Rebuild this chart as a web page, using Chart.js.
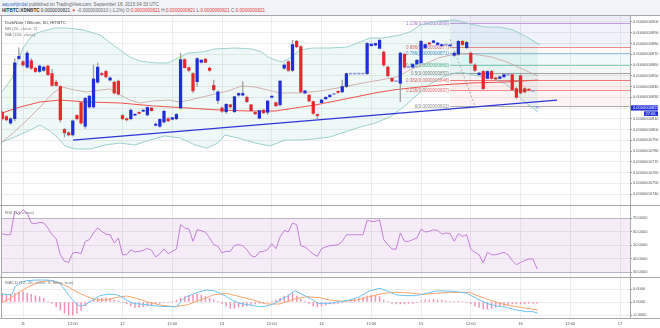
<!DOCTYPE html>
<html lang="en">
<head>
<meta charset="utf-8">
<title>DarkNote / Bitcoin, 60, HITBTC</title>
<script src="https://cdn.jsdelivr.net/npm/chart.js@4.4.1/dist/chart.umd.min.js"></script>
<style>
  html, body { margin: 0; padding: 0; }
  body { position: relative; width: 660px; height: 328px; overflow: hidden; background: #f0f3f7;
         font-family: "Liberation Sans", Arial, sans-serif; }
  #panel { position: absolute; left: 0; top: 15px; width: 660px; height: 313px; background: #fff; }
  canvas { position: absolute; left: 0; }
  .hdr { position: absolute; left: 2px; font-size: 4.6px; line-height: 5px; white-space: nowrap; color: #666; }
  .hdr .user { color: #3a6fc4; }
  .hdr b { color: #333; }
  .hdr .dn { color: #e53935; }
  .legend { position: absolute; left: 5px; font-size: 4.4px; line-height: 5px; white-space: nowrap; color: #777; }
  .legend.title { color: #444; }
</style>
</head>
<body>
<div class="hdr" style="top:1.5px"><span class="user">aayushjindal</span> published on TradingView.com, September 18, 2015 04:33 UTC</div>
<div class="hdr" style="top:7.5px"><b>HITBTC:XDNBTC</b> <span style="color:#333">0.0000000821</span> <span class="dn">▼</span> -0.0000000010 (-1.2%) O:<span class="dn">0.0000000821</span> H:<span class="dn">0.0000000821</span> L:<span class="dn">0.0000000821</span> C:<span class="dn">0.0000000821</span></div>
<div id="panel"></div>
<canvas id="priceChart" width="660" height="190" style="top:15px"></canvas>
<canvas id="rsiChart" width="660" height="72" style="top:205px"></canvas>
<canvas id="macdChart" width="660" height="51" style="top:277px"></canvas>
<div class="legend title" style="top:19.5px">DarkNote / Bitcoin, 60, HITBTC</div>
<div class="legend" style="top:25.8px">BB (20, close, 2)</div>
<div class="legend" style="top:31.8px">MA (100, close)</div>
<div class="legend" style="top:209.5px">RSI (14, close)</div>
<div class="legend" style="top:279.5px">MACD (12, 26, close, 9, false, true)</div>
<script>
// prices and MACD values are kept in units of 1e-10 BTC
const PRICE_UNIT = 1e-10;

// hourly bars, hour 0 = Sep 11 00:00 UTC
const firstHour = -5;
const opens = [816, 812, 806, 810, 866, 863, 858, 864, 857, 854, 855, 859, 852, 844, 840, 800, 797, 795, 813, 825,
  803, 821, 821, 844, 852, 854, 846, 844, 845, 813, 810, 810, 813.5, 816, 817, 813.5, 820, 804, 803, 807,
  810, 809.5, 810, 820, 865, 857.5, 852, 844.5, 862.5, 865.5, 857, 841, 827, 820, 816.5, 823, 816.5, 832, 832, 830,
  823, 816, 810.5, 818, 816, 830, 825, 823, 857, 863, 855, 882, 877, 834, 832, 826, 814, 825, 828.5, 830.5,
  833, 835.5, 835, 840, 852, 852, 852, 852, 852, 878, 878.5, 875.5, 872, 858, 847.5, 845, 843, 870, 858, 858,
  861, 862, 876, 880.5, 881, 879, 878, 879, 878, 869, 870, 882, 876, 871, 860, 851, 854, 847.5, 854, 848,
  847.5, 849, 851, 851, 838, 850, 838, 837.5, 836, 821];
const highs = [817, 813, 811, 866, 876, 864, 873, 866, 858, 860, 859, 860, 856, 846, 841, 801, 798, 809, 814, 826,
  830, 832, 860, 862, 853, 855, 849, 845, 846, 814, 811, 819, 814.5, 816.5, 818.5, 821, 820.5, 806, 810, 818,
  811, 811.5, 815, 871, 866, 858, 853, 867, 865, 866, 858, 846, 836, 821, 824, 823.5, 831, 834, 844.5, 831,
  823.5, 816.5, 818, 818.5, 827, 831.5, 825.5, 846, 861, 864, 883, 883, 878, 836.5, 832.5, 826.5, 814.5, 828, 830.5, 832.5,
  833.5, 836, 846, 852.5, 852, 852, 852, 852, 881, 879.5, 880.5, 884, 873, 859, 848, 845, 872, 871, 858, 861,
  865, 883, 880, 881, 883, 881, 879.5, 879, 879, 872, 883, 883, 882, 872, 861, 853, 855, 854.5, 855, 848.5,
  849.5, 851.5, 851, 852, 839, 851, 839, 838, 836.5, 821];
const lows = [809, 808, 805, 808, 865, 859, 857, 856, 853, 853, 854, 850, 840, 840, 807, 793, 794, 794, 809, 805,
  801, 820, 820, 843, 850, 848, 845, 833, 832, 809, 808, 809, 813, 814.5, 816.5, 813, 817, 803, 802, 806,
  807.5, 809, 809, 819, 857, 854, 834, 840, 862, 862, 854, 836, 824, 816, 815, 820.5, 816, 831, 831.5, 825,
  817, 814, 810, 815, 814, 829.5, 821.5, 822, 856, 854, 854, 876, 834, 833, 826, 814, 810, 824.5, 828, 830,
  832.5, 834, 834, 839, 852, 852, 852, 852, 851, 877.5, 878, 875, 859, 849, 844.5, 845, 826, 857, 858, 857.5,
  860.5, 861, 875, 879, 880.5, 878.5, 877.5, 879, 877.5, 868, 869, 878, 875.5, 861, 854, 850.5, 837, 847, 847, 846.5,
  847, 848.5, 851, 836, 829, 833, 834, 836, 835.5, 821];
const closes = [810, 809, 810, 862, 868, 860, 871, 857, 854, 859, 858, 851, 841, 841, 809, 797, 795, 808, 810, 806,
  829, 831, 847, 858, 851, 849, 848, 834, 833, 810, 809, 818, 814, 815, 818, 820.5, 817.5, 805, 809.5, 817,
  808, 811, 814, 865, 857.5, 855, 836, 866, 864.5, 862.5, 855, 837, 835, 817, 823.5, 821, 830.5, 833.5, 833.5, 826,
  817.5, 814.5, 817.5, 815.5, 826.5, 831, 822, 845, 860, 855, 879, 877, 835, 836, 826.5, 815, 813, 827.5, 830, 832,
  833, 834.5, 840, 852, 852, 852, 852, 852, 880, 879.5, 880, 883, 860, 850, 845, 845, 871, 858, 858, 860.5,
  864.5, 882, 879, 879.5, 882.5, 880.5, 879, 879, 878.5, 871, 882, 879, 881, 862, 855, 852.5, 838, 854, 847.5, 847,
  849, 851, 851, 837, 830, 834, 835, 836.5, 836, 821];

const rsi = [58.4, 57.6, 57.6, 74.9, 72.4, 76.2, 73.7, 66.3, 65.8, 66.8, 66.3, 62.6, 57.6, 54.7, 42.8, 37.9, 37.2, 44.1, 44.6, 43.6,
  52.7, 54, 58.9, 62.6, 60.1, 58.1, 57.6, 51.5, 55.2, 42.8, 42.8, 46.5, 44.8, 45.3, 46, 47.5, 46, 41.1, 43.6, 47,
  43.6, 45.3, 47, 65, 62.6, 61.8, 52.7, 61.3, 60.6, 59.4, 55.2, 50.2, 49, 44.1, 45.3, 45.3, 49.7, 50.2, 49.5, 46.5,
  42.1, 41.1, 44.8, 45.3, 46.5, 51, 47.3, 55.9, 60.8, 59.6, 66.3, 65, 49.5, 48.5, 46, 43.3, 41.6, 47.3, 48.5, 49.5,
  49.7, 50.2, 52.7, 57.6, 57.6, 57.6, 57.6, 57.6, 68.3, 67.5, 67.5, 68.7, 54, 50.2, 47, 47, 58.9, 52.7, 52.7, 54,
  55.2, 61.8, 59.6, 60.1, 61.3, 60.8, 58.1, 58.9, 58.4, 52.7, 58.4, 56.4, 57.6, 47, 44.6, 42.8, 36.7, 44.6, 42.8, 42.8,
  43.6, 44.6, 42.8, 38.4, 35.4, 37.1, 38.6, 39.6, 39.6, 32.2];

const macdHist = [6.7, 5.4, 6.2, 6.7, 7.9, 7.9, 6.7, 5.9, 4.9, 4.1, 2.8, 0.3, -1.0, -3.6, -6.2, -8.7, -10, -10, -8.7, -6.2,
  -3.1, 0.3, 1.5, 2.8, 2.8, 3.3, 2.8, 1.5, 0.8, -0.5, -1.5, -3.1, -4.1, -4.1, -3.6, -3.1, -2.6, -1.5, -1.0, -0.5,
  -0.3, 0.3, 1.5, 2.8, 4.1, 4.6, 5.4, 5.9, 5.4, 4.1, 2.8, 1.5, 0.3, -1.5, -3.1, -4.9, -4.9, -4.1, -3.6, -3.1,
  -2.3, -1.5, -1.0, -1.0, 0, 0.3, 1.5, 2.8, 4.6, 5.4, 6.7, 4.6, 2.1, 0.3, -1.5, -3.1, -3.6, -3.1, -2.3, -1.5,
  -1.5, -1.0, -0.5, 0.3, 1.5, 2.1, 2.8, 3.6, 4.6, 5.4, 4.9, 4.1, 1.5, 0.3, -1.0, -1.5, -1.5, -1.5, -1.0, -1.0,
  -0.5, 1.0, 1.5, 1.5, 2.1, 1.5, 1.5, 1.0, 0.3, 0.3, 0.3, 0.3, -0.5, -1.5, -3.1, -4.1, -5.6, -5.6, -4.9, -4.1,
  -3.6, -3.1, -2.3, -1.5, -1.5, -1.5, -1.5, -1.0, -1.0, -1.0];

// MACD and signal lines, sampled along the curve
const macdHours = [-5.5, -3.9, -2.7, -1.9, -0.7, 0.9, 3.3, 5.7, 7.3, 8.9, 10.1, 11.3, 12.5, 13.7, 15, 16.2, 17.4, 18.6, 20.2, 22.2,
  23.4, 25, 26.6, 29, 32.2, 35.5, 37.1, 38.3, 39.5, 41.1, 42.7, 44.3, 45.9, 47.5, 49.1, 50.7, 52.3, 54.7, 57.2, 58.8,
  60.4, 62, 63.6, 65.6, 66.8, 68.4, 70, 71.2, 72.8, 74, 76.4, 78.8, 81.2, 83.6, 86.1, 87.7, 90.1, 92.5, 94.9, 97.3,
  99.7, 102.1, 104.5, 107, 109.4, 111.8, 114.2, 116.6, 119, 121.4, 123, 124.2];
const macdLine = [5.9, 5.9, 5.4, 11.8, 14.9, 16.4, 16.9, 16.9, 16.4, 14.4, 9.2, 4.1, -0.5, -3.1, -2.3, 0.3, 2.8, 4.9, 5.9, 5.9,
  4.6, 1.5, -1.1, -1.8, -3.1, -3.6, -3.6, 1.5, 4.1, 6.2, 8, 9.2, 8.7, 6.9, 4.1, 1, -1.1, -2.3, -3.6, -3.1,
  -1.5, 1.5, 4.1, 8.7, 6.7, 4.1, 1.5, -1.1, -1.1, -1.0, 0.3, 1.5, 4.1, 8.7, 10.5, 8.7, 5.4, 4.9, 4.9, 6.7,
  8.5, 8.5, 8, 6.7, 2.8, -1.0, -3.1, -4.1, -6.2, -7.4, -7.4, -8.7];
const signalHours = [-5.5, -3.1, -0.7, 1.7, 4.1, 6.5, 8.5, 10.5, 12.9, 15.4, 17.8, 20.2, 22.6, 25, 27.4, 29.8, 33, 36.3, 39.5, 42.7,
  45.9, 49.1, 52.3, 55.5, 58.8, 62, 65.2, 68.4, 71.6, 74, 77, 80.4, 83.6, 86.9, 90.1, 93.3, 96.5, 99.7, 102.9, 106.2,
  107.8, 110.2, 112.6, 115, 117.4, 120.6, 124.2];
const signalLine = [-1.1, 2.8, 8, 12.3, 15.6, 16.4, 14.9, 12.3, 8, 4.1, 1.5, 1.5, 3.6, 4.6, 2.8, 0.3, -2.3, -3.6, -2.3, 1.5,
  5.4, 6.7, 4.1, 1.5, -1.5, -1.5, 2.1, 4.1, 3.3, 1.5, 0.5, 1.5, 4.1, 6.7, 7.4, 6.9, 5.9, 6.7, 7.4, 7.4,
  7.2, 4.1, 1.5, -1.0, -2.8, -4.4, -6.2];

// Bollinger bands (20, 2) and MA (100)
const bbUpperHours = [-5.1, -2.65, -1.45, 0, 1.69, 3.38, 4.82, 7.72, 10.6, 14.5, 18.6, 22.7, 25.8, 28.2, 31.8, 35, 37.4, 39.8, 43.2, 46.3,
  51.1, 55.2, 57.6, 59.1, 60.8, 62.5, 64.4, 66.8, 69.9, 74, 78.1, 81.3, 83.7, 86.8, 90.9, 93.3, 95.8, 100.1, 104.2, 107.8,
  111.4, 115, 118.2, 121.1, 123.5, 124.7];
const bbUpper = [834.9, 847.9, 861.9, 875.8, 885.1, 889.8, 891.6, 894.4, 894.4, 892.6, 887.9, 875.8, 867.4, 863.7, 861.9, 861.9, 866.5, 871.2, 872.1, 874.9,
  875.8, 874.9, 872.1, 867.4, 864.7, 862.8, 866.5, 874, 875.8, 875.8, 876.7, 881.4, 885.1, 885.1, 887.9, 890.7, 897.2, 900.9, 901.9, 898.1,
  895.3, 895.3, 892.6, 887, 881.4, 878.6];
const bbLowerHours = [-5.07, -1.93, 1.69, 4.1, 6.51, 8.44, 10.1, 12.5, 16.2, 19.8, 23.4, 27, 30.6, 34.2, 37.9, 41.5, 44.4, 47, 48.7, 51.9,
  56, 59.6, 63.2, 66.8, 70.4, 74, 77.7, 81.3, 84.9, 88.5, 92.1, 95.3, 98.2, 101.8, 105.4, 109.7, 113.8, 116.3, 118.2, 120.4,
  122.3, 124.2];
const bbLower = [788.4, 793, 799.5, 804.2, 798.6, 792.1, 784.7, 781.9, 781.9, 785.6, 787.4, 785.6, 790.2, 794, 792.1, 785.6, 782.8, 787.4, 794.9, 792.1,
  787.4, 784.7, 790.2, 790.2, 791.2, 793, 797.7, 802.3, 806, 811.6, 821.9, 833, 842.3, 849.8, 853.5, 849.8, 847, 842.3, 836.7, 827.4,
  821.9, 816.3];
const bbBasisHours = [-5.07, -2.41, 0.96, 4.1, 7.24, 9.41, 12.5, 15.4, 18.6, 21, 23.4, 25.8, 28.2, 31.1, 35, 37.9, 40.3, 43.2, 46.3, 49.4,
  52.8, 56, 59.1, 62, 66.8, 71.6, 77.2, 82, 86.1, 90.2, 93.3, 97, 100.1, 104.2, 108.3, 113.1, 116.7, 120.4, 124.2];
const bbBasis = [788.4, 796.7, 808.8, 820.9, 834, 839.5, 836.7, 834.9, 836.7, 837.7, 832.1, 827.4, 824.7, 826.5, 827.4, 825.6, 827.4, 830.2, 833, 835.8,
  840.5, 839.5, 836.7, 834, 834, 835.8, 839.5, 843.3, 846, 848.8, 855.4, 860.9, 866.5, 870.2, 870.2, 867.4, 862.8, 856.3, 849.8];
const ma100Hours = [-5.07, -0.72, 4.1, 8.92, 15.4, 23.4, 31.4, 39.6, 47.5, 54.8, 60.8, 65.6, 70.4, 75.3, 80.1, 84.9, 89.2, 93.3, 100.6, 108.3,
  116.3, 124.2];
const ma100 = [815.4, 820.9, 825.6, 827.4, 825.6, 824.7, 821.9, 820, 818.1, 817.2, 817.2, 820, 822.8, 826.5, 830.2, 834, 836.7, 838.6, 841.4, 843.3,
  844.2, 846];

// drawn trend line and Fibonacci retracement
const trendHours = [12.06, 128.8];
const trendPrices = [790.2, 827.4];
const fibAnchorHours = [103, 109];
const fibAnchorPrices = [884, 822];
const fibStartHour = 103;
const fibLevels = [0, 0.236, 0.382, 0.5, 0.618, 0.786, 0.886, 1.236];
const fibPrices = [822, 837, 846, 853, 860, 871, 877, 899];

const lastPrice = 821;
const barCountdown = '27:06';

// axis ticks
const timeTicks = [0, 12, 24, 36, 48, 60, 72, 84, 96, 108, 120, 132, 144];
const timeLabels = ['11', '12:00', '12', '12:00', '13', '12:00', '14', '12:00', '15', '12:00', '16', '12:00', '17'];
const priceTicks = [740, 750, 760, 770, 780, 790, 800, 810, 820, 830, 840, 850, 860, 870, 880, 890, 900];
const rsiTicks = [30, 40, 50, 60, 70];
const macdTicks = [-10, 0, 10];

const X_MIN = -5.07, X_MAX = 146.4;
const UP = '#1f2fd8', DOWN = '#e8262b', FLAT = '#8f98e4';
const GRID = '#ededed', AXIS_TEXT = '#555', FRAME = '#a6a6a6';
const FONT = '"Liberation Sans", Arial, sans-serif';

const fibLine = ['#ababab', '#f08a8a', '#ef7a7a', '#a3a3a3', '#86d2bb', '#92c6e2', '#f08a8a', '#c59be0'];
const fibText = ['#8c8c8c', '#e86464', '#e86464', '#7d7d7d', '#45b387', '#4a8fcc', '#e86464', '#ad78d0'];
const fibFill = ['rgba(239,83,80,0.07)', 'rgba(239,83,80,0.09)', 'rgba(120,120,120,0.09)', 'rgba(120,160,120,0.06)',
  'rgba(0,172,193,0.06)', 'rgba(239,83,80,0.04)', 'rgba(92,92,214,0.08)', 'rgba(92,92,214,0.11)'];

Chart.defaults.font.family = FONT;
Chart.defaults.animation = false;
Chart.defaults.plugins.legend.display = false;
Chart.defaults.plugins.tooltip.enabled = false;
Chart.defaults.elements.point.radius = 0;
Chart.defaults.elements.line.borderWidth = 1;
Chart.defaults.elements.line.tension = 0;

const hours = opens.map((_, i) => firstHour + i);
const pts = (xs, ys) => xs.map((x, i) => ({ x, y: ys[i] }));

// candle bodies get a minimum height so flat bars still show as a dash
const bodies = hours.map((h, i) => {
  let lo = Math.min(opens[i], closes[i]), hi = Math.max(opens[i], closes[i]);
  if (hi - lo < 0.9) { const m = (hi + lo) / 2; lo = m - 0.45; hi = m + 0.45; }
  return { x: h, y: [lo, hi] };
});
const bodyColors = hours.map((h, i) => closes[i] > opens[i] ? UP : closes[i] < opens[i] ? DOWN : FLAT);
const wicks = hours.map((h, i) => ({ x: h, y: [lows[i], highs[i]] })).filter(w => w.y[1] > w.y[0]);

function xAxis(withLabels) {
  return {
    type: 'linear', min: X_MIN, max: X_MAX, offset: false,
    afterBuildTicks: s => { s.ticks = timeTicks.map(v => ({ value: v })); },
    afterFit: s => { s.height = withLabels ? 10 : 0; s.paddingLeft = 0; s.paddingRight = 0; },
    grid: { color: GRID, offset: false, drawTicks: false },
    border: { display: false },
    ticks: { display: withLabels, autoSkip: false, maxRotation: 0, padding: 3,
             font: { size: 4 }, color: AXIS_TEXT, callback: (v, i) => timeLabels[i] }
  };
}

function yAxis(min, max, tickValues, fmt) {
  return {
    position: 'right', min, max,
    afterBuildTicks: s => { s.ticks = tickValues.map(v => ({ value: v })); },
    afterFit: s => { s.width = 30; s.paddingTop = 0; s.paddingBottom = 0; },
    grid: { color: GRID, tickColor: '#9a9a9a', tickLength: 2 },
    border: { display: true, color: FRAME },
    ticks: { padding: 1, font: { size: 4 }, color: AXIS_TEXT, callback: fmt }
  };
}

// panel separators and left edge
const framePlugin = {
  id: 'frame',
  afterDraw(chart, args, opts) {
    const { ctx, chartArea: a, width } = chart;
    ctx.save();
    ctx.strokeStyle = FRAME;
    ctx.lineWidth = 1;
    ctx.beginPath();
    ctx.moveTo(0, a.top + 0.5); ctx.lineTo(width, a.top + 0.5);
    ctx.moveTo(a.left - 0.5, a.top); ctx.lineTo(a.left - 0.5, a.bottom);
    if (opts.bottom) { ctx.moveTo(0, a.bottom + 0.5); ctx.lineTo(width, a.bottom + 0.5); }
    ctx.stroke();
    ctx.restore();
  }
};

// Fibonacci bands, level lines and their labels
const fibPlugin = {
  id: 'fib',
  beforeDatasetsDraw(chart) {
    const { ctx, chartArea: a, scales: { x, y } } = chart;
    const left = x.getPixelForValue(fibStartHour);
    ctx.save();
    for (let i = 0; i < fibPrices.length; i++) {
      const y0 = y.getPixelForValue(fibPrices[i]);
      const y1 = i + 1 < fibPrices.length ? y.getPixelForValue(fibPrices[i + 1]) : a.top;
      ctx.fillStyle = fibFill[i];
      ctx.fillRect(left, y1, a.right - left, y0 - y1);
    }
    ctx.lineWidth = 1;
    ctx.font = '4.5px ' + FONT;
    ctx.textAlign = 'right';
    ctx.textBaseline = 'middle';
    fibPrices.forEach((p, i) => {
      const py = Math.round(y.getPixelForValue(p)) + 0.5;
      ctx.strokeStyle = fibLine[i];
      ctx.beginPath(); ctx.moveTo(left, py); ctx.lineTo(a.right, py); ctx.stroke();
      ctx.fillStyle = fibText[i];
      ctx.fillText(`${fibLevels[i]}(${(p * PRICE_UNIT).toFixed(10)})`, left - 1, py);
    });
    ctx.restore();
  }
};

// last price tag on the price axis
const priceTagPlugin = {
  id: 'priceTag',
  afterDraw(chart) {
    const { ctx, chartArea: a, width, scales: { y } } = chart;
    const py = y.getPixelForValue(lastPrice) + 1;
    ctx.save();
    ctx.fillStyle = UP;
    ctx.fillRect(a.right + 1, py - 2.6, width - a.right - 3, 5.2);
    ctx.fillRect(width - 16, py + 3.4, 14, 4.6);
    ctx.fillStyle = '#fff';
    ctx.font = '4px ' + FONT;
    ctx.textBaseline = 'middle';
    ctx.textAlign = 'left';
    ctx.fillText((lastPrice * PRICE_UNIT).toFixed(10), a.right + 3, py);
    ctx.fillText(barCountdown, width - 14.5, py + 5.8);
    ctx.restore();
  }
};

// RSI 30..70 band
const rsiBandPlugin = {
  id: 'rsiBand',
  beforeDatasetsDraw(chart) {
    const { ctx, chartArea: a, scales: { y } } = chart;
    const top = y.getPixelForValue(70), bottom = y.getPixelForValue(30);
    ctx.save();
    ctx.fillStyle = 'rgba(171,71,188,0.1)';
    ctx.fillRect(a.left, top, a.right - a.left, bottom - top);
    ctx.strokeStyle = '#bdb2c6';
    ctx.lineWidth = 1;
    ctx.beginPath();
    ctx.moveTo(a.left, Math.round(top) + 0.5); ctx.lineTo(a.right, Math.round(top) + 0.5);
    ctx.moveTo(a.left, Math.round(bottom) + 0.5); ctx.lineTo(a.right, Math.round(bottom) + 0.5);
    ctx.stroke();
    ctx.restore();
  }
};

new Chart(document.getElementById('priceChart'), {
  type: 'line',
  data: {
    datasets: [
      { type: 'bar', data: bodies, backgroundColor: bodyColors, barThickness: 2.6, grouped: false, order: 0 },
      { type: 'bar', data: wicks, backgroundColor: '#a3a3a3', barThickness: 0.7, grouped: false, order: 1 },
      { data: pts(trendHours, trendPrices), borderColor: '#2b35d8', borderWidth: 1.2, order: 2 },
      { data: pts(fibAnchorHours, fibAnchorPrices), borderColor: '#a0a0a0', borderWidth: 0.8, borderDash: [2, 2], order: 3 },
      { data: pts(ma100Hours, ma100), borderColor: '#f0524c', order: 4 },
      { data: pts(bbBasisHours, bbBasis), borderColor: '#c9a09a', borderWidth: 0.8, order: 5 },
      { data: pts(bbUpperHours, bbUpper), borderColor: '#86c7c2', borderWidth: 0.8, order: 6 },
      { data: pts(bbLowerHours, bbLower), borderColor: '#86c7c2', borderWidth: 0.8, order: 7,
        fill: 6, backgroundColor: 'rgba(0,150,136,0.07)' }
    ]
  },
  options: {
    responsive: false,
    layout: { padding: { left: 2, top: 0, right: 0, bottom: 0 } },
    scales: {
      x: xAxis(false),
      y: yAxis(729.8, 906.5, priceTicks, v => (v * PRICE_UNIT).toFixed(10))
    },
    plugins: { frame: {} }
  },
  plugins: [fibPlugin, framePlugin, priceTagPlugin]
});

new Chart(document.getElementById('rsiChart'), {
  type: 'line',
  data: {
    datasets: [
      { data: pts(hours, rsi), borderColor: '#c27fd6' }
    ]
  },
  options: {
    responsive: false,
    layout: { padding: { left: 2, top: 0, right: 0, bottom: 0 } },
    scales: {
      x: xAxis(false),
      y: yAxis(26.3, 79.63, rsiTicks, v => v.toFixed(4))
    },
    plugins: { frame: {} }
  },
  plugins: [rsiBandPlugin, framePlugin]
});

new Chart(document.getElementById('macdChart'), {
  type: 'line',
  data: {
    datasets: [
      { data: pts(macdHours, macdLine), borderColor: '#6cc3f0', order: 0 },
      { data: pts(signalHours, signalLine), borderColor: '#f7a56b', order: 1 },
      { type: 'bar', data: pts(hours, macdHist), backgroundColor: '#f48fb8', barThickness: 0.8, grouped: false, order: 2 }
    ]
  },
  options: {
    responsive: false,
    layout: { padding: { left: 2, top: 0, right: 0, bottom: 0 } },
    scales: {
      x: xAxis(true),
      y: yAxis(-12.3, 19.23, macdTicks, v => (v * PRICE_UNIT).toFixed(4))
    },
    plugins: { frame: { bottom: true } }
  },
  plugins: [framePlugin]
});
</script>
</body>
</html>
